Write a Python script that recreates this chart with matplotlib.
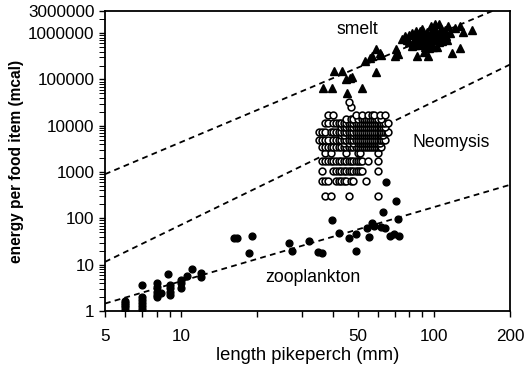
import numpy as np
import matplotlib
matplotlib.use("Agg")
import matplotlib.pyplot as plt
from matplotlib.ticker import FixedLocator, FixedFormatter, NullFormatter

plt.rcParams['font.family'] = ['Liberation Sans', 'DejaVu Sans']

# ---- zooplankton prey (length of pikeperch in mm, energy per item in mcal)
zoo_length = [6, 6, 6, 6, 6,
              7, 7, 7, 7, 7, 7,
              8, 8, 8, 8, 8, 8.3,
              8.9, 9, 9, 9, 9,
              10, 10, 10, 10.6, 11, 12, 12,
              16.2, 16.7, 18.6, 19.1, 26.7, 27.5, 32.1, 34.8, 36.1,
              39.5, 42.2, 46.1, 49.2, 49.2, 54.4, 55.4, 56.9, 58, 61.6,
              63, 64, 64.7, 66.9, 69.5, 70.8, 72, 73]
zoo_energy = [1.05, 1.2, 1.35, 1.5, 1.65,
              1.1, 1.3, 1.5, 1.75, 2.0, 3.6,
              2.0, 2.2, 2.6, 3.3, 4.1, 2.4,
              6.4, 2.2, 2.6, 3.1, 3.7,
              3.2, 4.0, 4.7, 5.7, 8.1, 5.5, 6.6,
              38, 37, 18, 42, 30, 20, 33, 19, 18,
              92, 49, 38, 46, 20, 63, 40, 80, 69, 66,
              139, 63, 620, 42, 46, 240, 98, 42]

# ---- Neomysis prey: energy classes and the pikeperch lengths feeding on each
neo_energy_classes = [310, 640, 1080, 1700, 2550, 3400, 4200, 5000, 6200,
                      7500, 9300, 11500, 14000, 17000, 25000, 33000]
neo_lengths_by_class = [
    [37, 39, 46, 60],
    [36, 37, 38, 41, 42, 43, 44, 45, 47, 48, 54],
    [36, 40, 41, 42, 43, 44, 45, 46, 47, 48, 49, 50, 51, 52, 60],
    [36, 37, 38, 39, 40, 41, 42, 43, 44, 45, 46, 47, 48, 49, 50, 51, 52, 55, 60],
    [37, 39, 45, 50, 51, 60],
    [36, 37, 38, 39, 40, 41, 42, 43, 44, 45, 46, 47, 48, 49, 50, 51, 52, 53,
     54, 55, 56, 57, 58, 59, 60, 61, 62],
    [44, 46, 48, 50, 51, 52, 53, 54, 55, 56, 57, 58, 59, 60, 61],
    [35, 36, 37, 38, 40, 41, 42, 43, 44, 45, 46, 47, 48, 49, 50, 51, 52, 53,
     54, 55, 56, 57, 58, 59, 60, 61, 62, 63, 64],
    [43, 44, 46, 47, 48, 49, 50, 51, 52, 53, 54, 55, 56, 57, 58, 59, 60, 61, 62, 63],
    [35, 36, 37, 39, 40, 41, 42, 43, 44, 45, 46, 47, 48, 49, 50, 51, 52, 53,
     54, 55, 56, 57, 58, 59, 60, 61, 62, 63, 64, 65, 66],
    [43, 44, 45, 46, 47, 48, 49, 50, 51, 52, 53, 54, 55, 56, 57, 58, 59, 60,
     61, 62, 63, 64],
    [37, 38, 40, 41, 42, 43, 44, 45, 46, 47, 48, 49, 50, 51, 52, 53, 54, 55,
     56, 57, 58, 59, 60, 61, 62, 63, 64, 66],
    [45, 47, 48, 50, 52, 53, 54, 55, 56, 57, 58, 59, 60, 62],
    [38, 40, 49, 52, 55, 57, 58, 61, 64],
    [47],
    [46],
]

# ---- smelt prey
smelt_length = [36.4, 39.5, 40.3, 43.3, 45.4, 45, 46.6, 47.4, 51.9, 53.3,
                55.8, 56.8, 59, 59, 61, 62, 70, 71, 72, 75,
                77, 82, 83, 86, 88, 91, 95, 97, 99, 101,
                103, 105, 108, 112, 114, 116, 118, 121, 127, 127,
                130, 141, 78, 80, 80, 82, 84, 85, 86, 87,
                89, 90, 90, 92, 93, 94, 95, 96, 97, 98,
                99, 100, 101, 102, 104, 105, 106, 107, 109, 110,
                111, 113, 88, 92, 96, 84]
smelt_energy = [67000, 67000, 149000, 149000, 52000, 100000, 110000, 115000, 67000, 245000,
                285000, 315000, 142000, 450000, 365000, 330000, 315000, 450000, 350000, 750000,
                850000, 520000, 620000, 315000, 1100000, 400000, 315000, 1400000, 500000, 1550000,
                500000, 1550000, 660000, 850000, 1400000, 1000000, 380000, 1300000, 470000, 1400000,
                1040000, 1150000, 700000, 900000, 650000, 1000000, 800000, 1100000, 700000, 950000,
                800000, 600000, 1200000, 900000, 700000, 1050000, 800000, 600000, 1000000, 750000,
                1200000, 900000, 700000, 1100000, 850000, 650000, 1000000, 1250000, 800000, 950000,
                1150000, 700000, 560000, 500000, 480000, 560000]

# ---- power-law fits: energy at 5 mm and exponent
smelt_fit = (900, 2.30)
neomysis_fit = (11.5, 2.66)
zooplankton_fit = (1.45, 1.60)

x_ticks_major = [5, 10, 50, 100, 200]
x_ticks_minor = [6, 7, 8, 9, 20, 30, 40, 60, 70, 80, 90]
y_ticks_major = [1, 10, 100, 1000, 10000, 100000, 1000000, 3000000]
y_tick_labels = ['1', '10', '100', '1000', '10000', '100000', '1000000', '3000000']

fig = plt.figure(figsize=(5.26, 3.68), dpi=100)
ax = fig.add_axes([0.1996, 0.1549, 0.77, 0.8151])
ax.set_xscale('log')
ax.set_yscale('log')
ax.set_xlim(5, 200)
ax.set_ylim(1, 3000000)

# regression lines
xl = np.geomspace(5, 200, 200)
for a, b in (smelt_fit, neomysis_fit, zooplankton_fit):
    ax.plot(xl, a * (xl / 5.0) ** b, color='black', lw=1.3,
            linestyle=(0, (3.2, 2.4)), zorder=2)

# Neomysis points
neo_x, neo_y = [], []
for e, lens in zip(neo_energy_classes, neo_lengths_by_class):
    neo_x.extend(lens)
    neo_y.extend([e] * len(lens))
ax.plot(neo_x, neo_y, linestyle='none', marker='o', markersize=4.9,
        markerfacecolor='white', markeredgecolor='black', markeredgewidth=1.15,
        zorder=3)

ax.plot(zoo_length, zoo_energy, linestyle='none', marker='o', markersize=4.9,
        color='black', zorder=4)
ax.plot(smelt_length, smelt_energy, linestyle='none', marker='^', markersize=5.3,
        color='black', zorder=4)

# labels for the prey groups
ax.text(50, 1.2e6, 'smelt', fontsize=12.7, ha='center', va='center')
ax.text(117, 4300, 'Neomysis', fontsize=12.7, ha='center', va='center')
ax.text(33.3, 5.2, 'zooplankton', fontsize=12.7, ha='center', va='center')

ax.xaxis.set_major_locator(FixedLocator(x_ticks_major))
ax.xaxis.set_major_formatter(FixedFormatter([str(v) for v in x_ticks_major]))
ax.xaxis.set_minor_locator(FixedLocator(x_ticks_minor))
ax.xaxis.set_minor_formatter(NullFormatter())

y_minor = [m * 10 ** d for d in range(0, 7) for m in range(2, 10)
           if m * 10 ** d < 3000000]
ax.yaxis.set_major_locator(FixedLocator(y_ticks_major))
ax.yaxis.set_major_formatter(FixedFormatter(y_tick_labels))
ax.yaxis.set_minor_locator(FixedLocator(y_minor))
ax.yaxis.set_minor_formatter(NullFormatter())

ax.tick_params(which='both', direction='out', length=4.5, width=1.0,
               labelsize=12.3, pad=3)
ax.tick_params(axis='x', which='major', pad=8.5)
ax.tick_params(axis='y', which='minor', length=4.5, width=0.7)
for s in ax.spines.values():
    s.set_linewidth(1.3)

ax.set_xlabel('length pikeperch (mm)', fontsize=13.2, labelpad=2)
ax.set_ylabel('energy per food item (mcal)', fontsize=11.2, fontweight='bold',
              labelpad=3)

fig.savefig('out.png', dpi=100)
